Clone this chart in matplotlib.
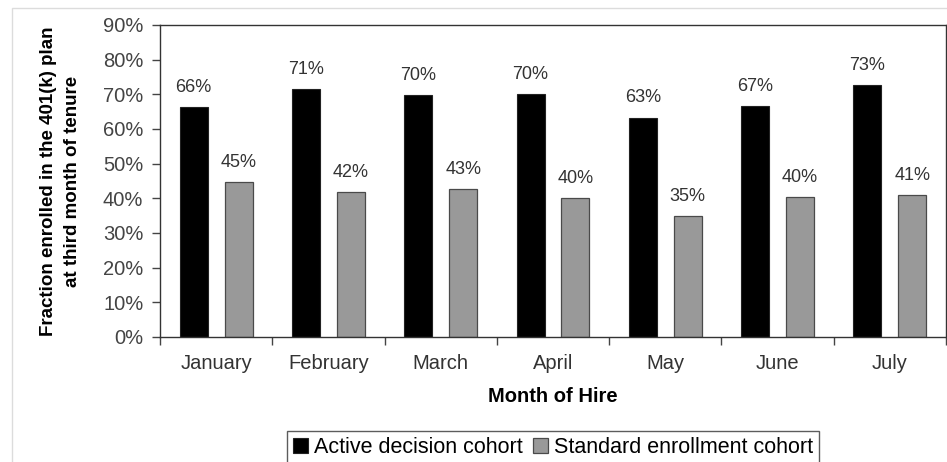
import matplotlib.pyplot as plt
import numpy as np
from matplotlib.patches import Rectangle

months = ['January', 'February', 'March', 'April', 'May', 'June', 'July']
active = [66.3, 71.4, 69.8, 70.0, 63.3, 66.6, 72.7]
standard = [44.7, 41.8, 42.7, 40.1, 34.9, 40.4, 41.0]
series_names = ['Active decision cohort', 'Standard enrollment cohort']

plt.rcParams['font.family'] = ['Liberation Sans', 'DejaVu Sans']

fig = plt.figure(figsize=(9.47, 4.62), dpi=100)
ax = fig.add_axes([160 / 947, 1 - 337 / 462, (946 - 160) / 947, (337 - 25) / 462])

# light outer chart-area frame
fig.patches.append(Rectangle((12 / 947, -0.1), 1.1, 1 - 8 / 462 + 0.1,
                             transform=fig.transFigure, fill=False,
                             edgecolor='#dcdcdc', linewidth=1.0))

x = np.arange(len(months))
w = 0.25
off = 0.2
b1 = ax.bar(x - off, active, w, color='black', edgecolor='#222222',
            linewidth=0.8, label=series_names[0])
b2 = ax.bar(x + off, standard, w, color='#999999', edgecolor='#4a4a4a',
            linewidth=0.9, label=series_names[1])

for bars, vals in ((b1, active), (b2, standard)):
    for r, v in zip(bars, vals):
        ax.text(r.get_x() + r.get_width() / 2, v + 3.2, '%d%%' % round(v),
                ha='center', va='bottom', fontsize=13, color='#333333')

ax.set_ylim(0, 90)
ax.set_xlim(-0.5, len(months) - 0.5)
ax.set_yticks(np.arange(0, 91, 10))
ax.set_yticklabels(['%d%%' % t for t in range(0, 91, 10)])
ax.set_xticks(x)
ax.set_xticklabels(months)
ax.set_xticks(np.arange(-0.5, len(months)), minor=True)
ax.tick_params(axis='x', which='major', length=0, pad=12, labelsize=14.5,
               labelcolor='#333333')
ax.tick_params(axis='x', which='minor', length=6, width=1, color='#444444')
ax.tick_params(axis='y', length=6, width=1, color='#444444', pad=6,
               labelsize=14.5, labelcolor='#444444')
for s in ax.spines.values():
    s.set_color('#333333')
    s.set_linewidth(1.0)

ax.set_xlabel('Month of Hire', fontsize=14.5, fontweight='bold', labelpad=10)
ax.set_ylabel('Fraction enrolled in the 401(k) plan\nat third month of tenure',
              fontsize=13.5, fontweight='bold', labelpad=16, linespacing=1.55)

fig.legend(handles=[b1, b2], loc='upper center',
           bbox_to_anchor=(553 / 947, 1 - 431 / 462), ncol=2, fontsize=15.5,
           frameon=True, fancybox=False, edgecolor='#333333',
           handlelength=0.7, handleheight=0.7, handletextpad=0.25,
           columnspacing=0.5, borderpad=0.3, borderaxespad=0)

fig.savefig('out.png', dpi=100)
